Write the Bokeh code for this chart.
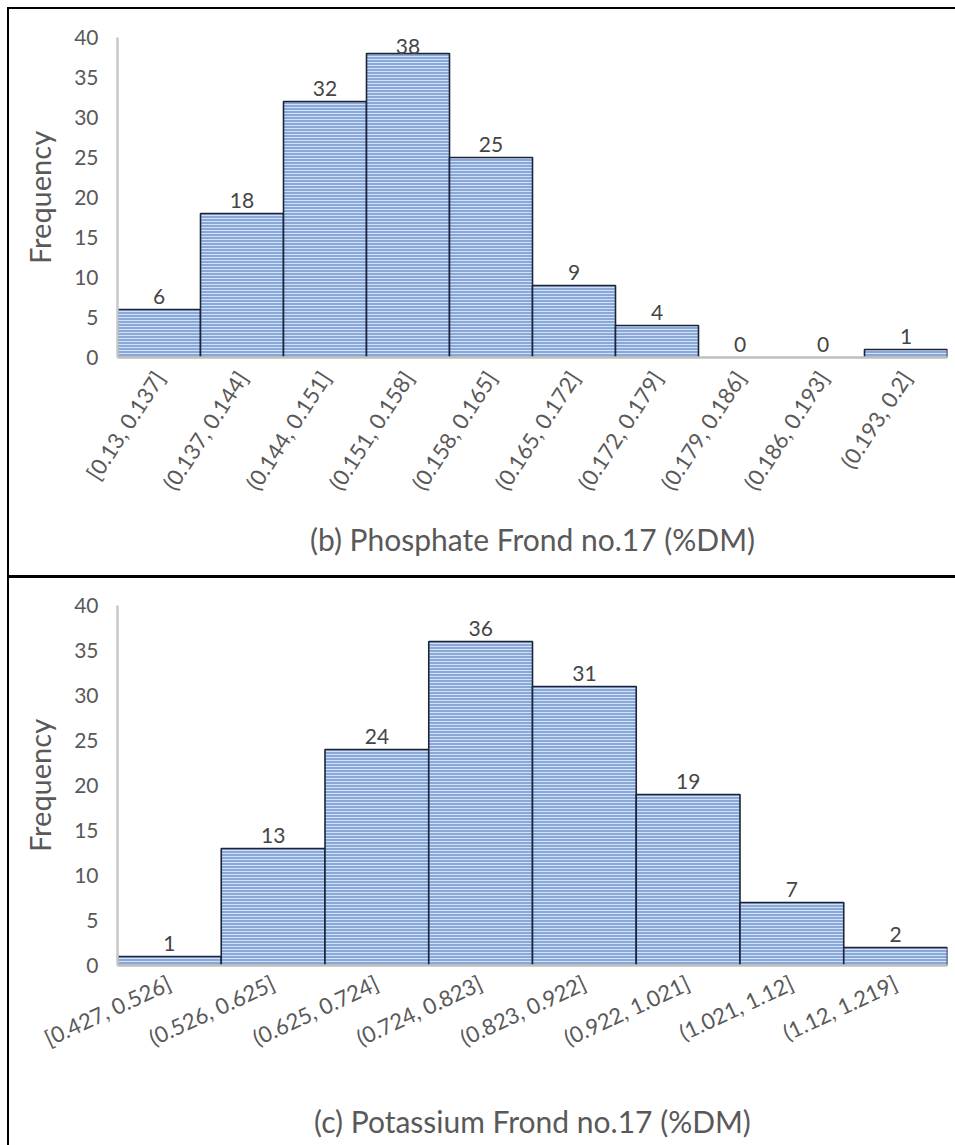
import math
from bokeh.plotting import figure
from bokeh.models import ColumnDataSource, FactorRange, Range1d, FixedTicker
from bokeh.layouts import column
from bokeh.embed import file_html
from bokeh.resources import INLINE
from bokeh.core.properties import value

# ---- data ----
p_bins = ["[0.13, 0.137]", "(0.137, 0.144]", "(0.144, 0.151]", "(0.151, 0.158]",
          "(0.158, 0.165]", "(0.165, 0.172]", "(0.172, 0.179]", "(0.179, 0.186]",
          "(0.186, 0.193]", "(0.193, 0.2]"]
p_counts = [6, 18, 32, 38, 25, 9, 4, 0, 0, 1]
p_title = "(b) Phosphate Frond no.17 (%DM)"

k_bins = ["[0.427, 0.526]", "(0.526, 0.625]", "(0.625, 0.724]", "(0.724, 0.823]",
          "(0.823, 0.922]", "(0.922, 1.021]", "(1.021, 1.12]", "(1.12, 1.219]"]
k_counts = [1, 13, 24, 36, 31, 19, 7, 2]
k_title = "(c) Potassium Frond no.17 (%DM)"

y_ticks = [0, 5, 10, 15, 20, 25, 30, 35, 40]
y_label = "Frequency"

FONT = "Lato"
GRAY = "#595959"
Y_MAX = 40


def panel(bins, counts, title, frame_h, top_b, bottom_b, angle, xl_standoff):
    px_per_unit = frame_h / Y_MAX
    # data-label offset: normally 13px above the bar; pushed down near the top edge
    offs = [-min(13.0, max(7.0, frame_h - c * px_per_unit - 10)) for c in counts]
    src = ColumnDataSource(dict(
        bin=bins, count=counts, label=[str(c) for c in counts], off=offs,
        lc=["#1c2538" if c > 0 else "rgba(0,0,0,0)" for c in counts],
    ))
    p = figure(x_range=FactorRange(factors=bins, range_padding=0),
               y_range=Range1d(0, Y_MAX),
               frame_width=830, frame_height=frame_h,
               min_border_left=108, min_border_right=8,
               min_border_top=top_b, min_border_bottom=bottom_b,
               output_backend="svg", toolbar_location=None,
               styles={"background-color": "#ffffff"})
    p.vbar(x="bin", top="count", bottom=0, width=1.0, source=src,
           fill_color="#88a8da", line_color="lc", line_width=1.6,
           hatch_pattern="horizontal_line", hatch_color="#dde7f6",
           hatch_scale=3, hatch_weight=1, hatch_alpha=0.9)
    p.text(x="bin", y="count", text="label", source=src,
           text_align="center", text_baseline="middle", y_offset="off",
           text_font=value(FONT), text_font_size="21px", text_color="#454545")

    p.xgrid.grid_line_color = None
    p.ygrid.grid_line_color = None
    p.outline_line_color = None
    p.background_fill_color = "white"
    p.border_fill_color = "white"

    xa = p.xaxis[0]
    xa.axis_line_color = "#bfbfbf"
    xa.axis_line_width = 2.5
    xa.major_tick_line_color = None
    xa.minor_tick_line_color = None
    xa.major_label_orientation = angle
    xa.major_label_standoff = 10
    xa.major_label_text_font = FONT
    xa.major_label_text_font_size = "22px"
    xa.major_label_text_color = GRAY
    xa.axis_label = title
    xa.axis_label_text_font = FONT
    xa.axis_label_text_font_size = "30px"
    xa.axis_label_text_font_style = "normal"
    xa.axis_label_text_color = GRAY
    xa.axis_label_standoff = xl_standoff

    ya = p.yaxis[0]
    ya.ticker = FixedTicker(ticks=y_ticks)
    ya.axis_line_color = "#c8c8c8"
    ya.axis_line_width = 2.5
    ya.major_tick_line_color = None
    ya.minor_tick_line_color = None
    ya.major_label_standoff = 13
    ya.major_label_text_font = FONT
    ya.major_label_text_font_size = "21px"
    ya.major_label_text_color = GRAY
    ya.axis_label = y_label
    ya.axis_label_text_font = FONT
    ya.axis_label_text_font_size = "29px"
    ya.axis_label_text_font_style = "normal"
    ya.axis_label_text_color = GRAY
    ya.axis_label_standoff = 14
    return p


p1 = panel(p_bins, p_counts, p_title, 320, 28, 218, math.radians(57), 16)
p2 = panel(k_bins, k_counts, k_title, 360, 27, 180, math.radians(25), 36)

layout = column(p1, p2, spacing=3,
                styles={"background-color": "#000000",
                        "padding": "2px 0px 0px 2px",
                        "margin": "7px 0px 0px 7px"})

open("out.html", "w").write(file_html(layout, INLINE))
